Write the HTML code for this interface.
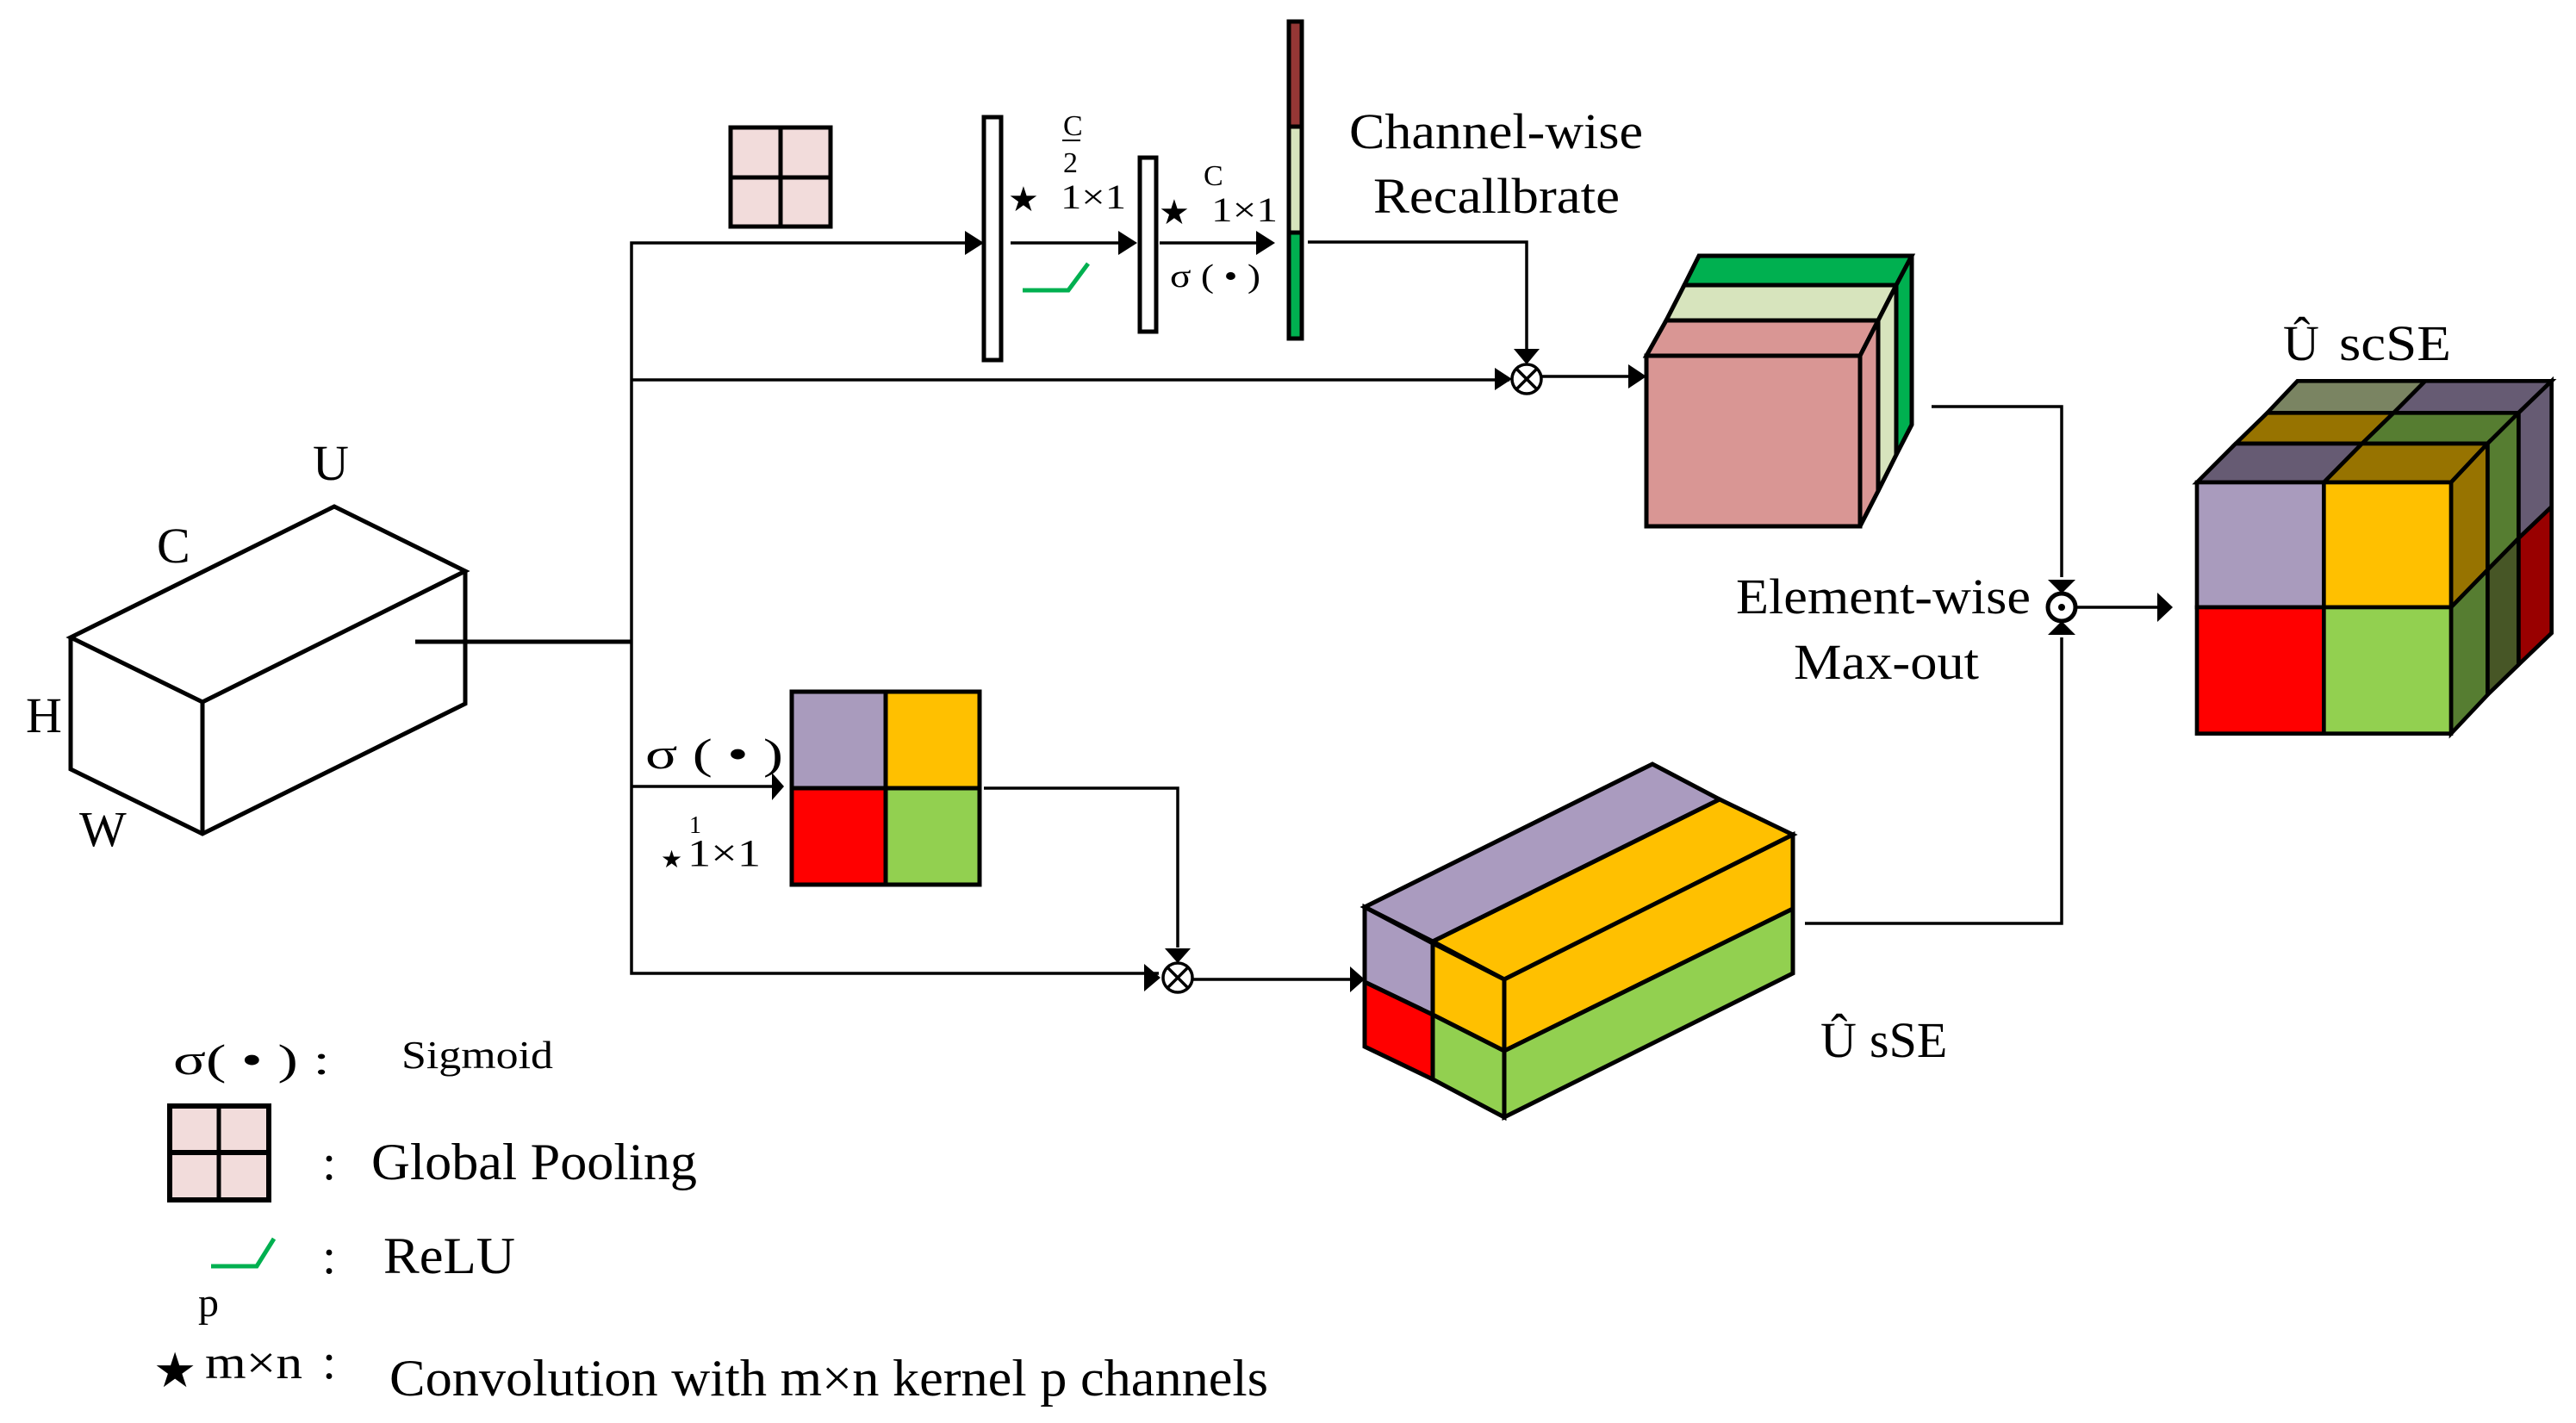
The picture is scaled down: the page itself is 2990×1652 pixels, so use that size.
<!DOCTYPE html>
<html><head><meta charset="utf-8"><style>
html,body{margin:0;padding:0;background:#fff;}
svg{display:block;}
text{font-family:"Liberation Serif","Times New Roman",serif;fill:#000;}
</style></head><body>
<svg width="2990" height="1652" viewBox="0 0 2990 1652" xmlns="http://www.w3.org/2000/svg">
<rect width="2990" height="1652" fill="#fff"/>
<g stroke="#000" stroke-width="3.5" fill="none" stroke-linejoin="miter">
<polygon points="82,740 388,588 540,663 235,815" stroke-width="5"/>
<polyline points="82,740 82,893 235,968 540,817 540,663" stroke-width="5"/>
<line x1="235" y1="815" x2="235" y2="968" stroke-width="5"/>
<line x1="482" y1="745" x2="733" y2="745" stroke-width="5"/>
<polyline points="1126,282 733,282 733,1130 1345,1130"/>
<line x1="733" y1="441" x2="1752" y2="441"/>
<line x1="733" y1="913" x2="905" y2="913"/>
<rect x="848" y="148" width="116" height="115" fill="#f2dcdb" stroke-width="5"/>
<line x1="906" y1="148" x2="906" y2="263" stroke-width="5"/>
<line x1="848" y1="206" x2="964" y2="206" stroke-width="5"/>
<rect x="1142" y="136" width="20" height="282" fill="#fff" stroke-width="5"/>
<line x1="1173" y1="282" x2="1300" y2="282"/>
<rect x="1323" y="183" width="19" height="202" fill="#fff" stroke-width="5"/>
<line x1="1346" y1="282" x2="1460" y2="282"/>
<rect x="1496" y="25" width="15" height="122" fill="#953735" stroke-width="5"/>
<rect x="1496" y="147" width="15" height="123" fill="#d7e4bd" stroke-width="5"/>
<rect x="1496" y="270" width="15" height="123" fill="#00b050" stroke-width="5"/>
<polyline points="1518,281 1772,281 1772,405"/>
<polyline points="1187,337 1240,337 1263,306" stroke="#00b050" stroke-width="5"/>
<circle cx="1772" cy="440" r="17"/>
<line x1="1760" y1="428" x2="1784" y2="452"/><line x1="1784" y1="428" x2="1760" y2="452"/>
<line x1="1789" y1="437" x2="1895" y2="437"/>
<polygon points="1972,297 2219,297 2201,331 1955,331" fill="#00b050" stroke-width="5"/>
<polygon points="1955,331 2201,331 2180,372 1934,372" fill="#d7e4bd" stroke-width="5"/>
<polygon points="1934,372 2180,372 2159,413 1911,413" fill="#d99694" stroke-width="5"/>
<polygon points="2201,331 2219,297 2219,493 2201,528" fill="#00b050" stroke-width="5"/>
<polygon points="2180,372 2201,331 2201,528 2180,570" fill="#d7e4bd" stroke-width="5"/>
<polygon points="2159,413 2180,372 2180,570 2159,611" fill="#d99694" stroke-width="5"/>
<rect x="1911" y="413" width="248" height="198" fill="#d99694" stroke-width="5"/>
<polyline points="2242,472 2393,472 2393,670"/>
<circle cx="2393" cy="705" r="16" stroke-width="5"/>
<circle cx="2393" cy="705" r="4" fill="#000" stroke="none"/>
<line x1="2410" y1="705" x2="2505" y2="705"/>
<polyline points="2095,1072 2393,1072 2393,740"/>
<rect x="919" y="803" width="109" height="112" fill="#a99bbd" stroke-width="5"/>
<rect x="1028" y="803" width="109" height="112" fill="#ffc000" stroke-width="5"/>
<rect x="919" y="915" width="109" height="112" fill="#ff0000" stroke-width="5"/>
<rect x="1028" y="915" width="109" height="112" fill="#92d050" stroke-width="5"/>
<polyline points="1142,915 1367,915 1367,1100"/>
<circle cx="1367" cy="1135" r="17"/>
<line x1="1355" y1="1123" x2="1379" y2="1147"/><line x1="1379" y1="1123" x2="1355" y2="1147"/>
<line x1="1384" y1="1137" x2="1568" y2="1137"/>
<polygon points="1584,1053 1918,887 1996,928 1663,1093" fill="#aa9bbf" stroke-width="5"/>
<polygon points="1663,1093 1996,928 2081,969 1746,1137" fill="#ffc000" stroke-width="5"/>
<polygon points="1584,1053 1663,1095 1663,1178 1584,1140" fill="#aa9bbf" stroke-width="5"/>
<polygon points="1584,1140 1663,1178 1663,1253 1584,1215" fill="#ff0000" stroke-width="5"/>
<polygon points="1663,1095 1746,1137 1746,1220 1663,1178" fill="#ffc000" stroke-width="5"/>
<polygon points="1663,1178 1746,1220 1746,1297 1663,1253" fill="#92d050" stroke-width="5"/>
<polygon points="1746,1137 2081,969 2081,1055 1746,1220" fill="#ffc000" stroke-width="5"/>
<polygon points="1746,1220 2081,1055 2081,1130 1746,1297" fill="#92d050" stroke-width="5"/>
<rect x="197" y="1284" width="115" height="109" fill="#f2dcdb" stroke-width="6"/>
<line x1="254" y1="1284" x2="254" y2="1393" stroke-width="5"/>
<line x1="197" y1="1338" x2="312" y2="1338" stroke-width="6"/>
<polyline points="245,1470 298,1470 318,1438" stroke="#00b050" stroke-width="5"/>
</g>
<g fill="#000">
<polygon points="1120,268 1142,282 1120,296"/>
<polygon points="1298,268 1320,282 1298,296"/>
<polygon points="1458,268 1480,282 1458,296"/>
<polygon points="1757,405 1787,405 1772,423"/>
<polygon points="1735,427 1755,440 1735,453"/>
<polygon points="1890,423 1911,437 1890,451"/>
<polygon points="2377,673 2409,673 2393,689"/>
<polygon points="2377,737 2409,737 2393,721"/>
<polygon points="2504,688 2522,705 2504,722"/>
<polygon points="896,897 910,913 896,929"/>
<polygon points="1352,1101 1382,1101 1367,1118"/>
<polygon points="1328,1119 1347,1135 1328,1151"/>
<polygon points="1567,1122 1584,1137 1567,1152"/>
</g>
<g transform="translate(2480,380) scale(0.33333)" stroke="#000" stroke-width="14" stroke-linejoin="miter">
<polygon points="455,298 895,298 1005,187 560,187" fill="#7a8462"/>
<polygon points="895,298 1330,298 1445,187 1005,187" fill="#665b73"/>
<polygon points="345,405 785,405 895,298 455,298" fill="#977300"/>
<polygon points="785,405 1222,405 1330,298 895,298" fill="#567d31"/>
<polygon points="210,540 652,540 785,405 345,405" fill="#665b73"/>
<polygon points="652,540 1095,540 1222,405 785,405" fill="#977300"/>
<polygon points="1330,298 1445,187 1445,625 1330,735" fill="#665b73"/>
<polygon points="1330,735 1445,625 1445,1065 1330,1175" fill="#990000"/>
<polygon points="1222,405 1330,298 1330,735 1222,845" fill="#567d31"/>
<polygon points="1222,845 1330,735 1330,1175 1222,1280" fill="#475626"/>
<polygon points="1095,540 1222,405 1222,845 1095,975" fill="#977300"/>
<polygon points="1095,975 1222,845 1222,1280 1095,1415" fill="#567d31"/>
<rect x="210" y="540" width="442" height="435" fill="#a99bbd"/>
<rect x="652" y="540" width="443" height="435" fill="#ffc000"/>
<rect x="210" y="975" width="442" height="440" fill="#ff0000"/>
<rect x="652" y="975" width="443" height="440" fill="#92d050"/>
</g>
<text x="363" y="557" font-size="58">U</text>
<text x="182" y="653" font-size="58">C</text>
<text x="30" y="850" font-size="58">H</text>
<text x="92" y="982" font-size="58">W</text>
<text x="1234" y="157" font-size="34">C</text>
<line x1="1233" y1="163" x2="1254" y2="163" stroke="#000" stroke-width="2"/>
<text x="1234" y="200" font-size="34">2</text>
<text x="1170" y="245" font-size="40" font-family="DejaVu Sans">★</text>
<text x="1231" y="242" font-size="40" textLength="76" lengthAdjust="spacingAndGlyphs">1×1</text>
<text x="1345" y="260" font-size="40" font-family="DejaVu Sans">★</text>
<text x="1397" y="215" font-size="34">C</text>
<text x="1406" y="257" font-size="40" textLength="77" lengthAdjust="spacingAndGlyphs">1×1</text>
<text x="1358" y="333" font-size="38" textLength="105" lengthAdjust="spacingAndGlyphs">σ ( • )</text>
<text x="1566" y="172" font-size="58" textLength="341" lengthAdjust="spacingAndGlyphs">Channel-wise</text>
<text x="1594" y="247" font-size="58" textLength="286" lengthAdjust="spacingAndGlyphs">Recallbrate</text>
<text x="2015" y="712" font-size="58" textLength="342" lengthAdjust="spacingAndGlyphs">Element-wise</text>
<text x="2082" y="788" font-size="58" textLength="215" lengthAdjust="spacingAndGlyphs">Max-out</text>
<text x="749" y="892" font-size="50" textLength="160" lengthAdjust="spacingAndGlyphs">σ ( • )</text>
<text x="800" y="967" font-size="28">1</text>
<text x="767" y="1007" font-size="28" font-family="DejaVu Sans">★</text>
<text x="798" y="1005" font-size="44" textLength="85" lengthAdjust="spacingAndGlyphs">1×1</text>
<text x="2113" y="1227" font-size="58">Û</text>
<text x="2170" y="1227" font-size="58">sSE</text>
<text x="2650" y="418" font-size="58">Û</text>
<text x="2715" y="418" font-size="58" textLength="130" lengthAdjust="spacingAndGlyphs">scSE</text>
<text x="201" y="1247" font-size="50" textLength="182" lengthAdjust="spacingAndGlyphs">σ( • ) :</text>
<text x="466" y="1240" font-size="46" textLength="176" lengthAdjust="spacingAndGlyphs">Sigmoid</text>
<text x="374" y="1369" font-size="58">:</text>
<text x="431" y="1369" font-size="60" textLength="378" lengthAdjust="spacingAndGlyphs">Global Pooling</text>
<text x="374" y="1478" font-size="58">:</text>
<text x="445" y="1478" font-size="60" textLength="153" lengthAdjust="spacingAndGlyphs">ReLU</text>
<text x="230" y="1528" font-size="48">p</text>
<text x="178" y="1610" font-size="56" font-family="DejaVu Sans">★</text>
<text x="238" y="1600" font-size="54" textLength="113" lengthAdjust="spacingAndGlyphs">m×n</text>
<text x="374" y="1600" font-size="58">:</text>
<text x="452" y="1620" font-size="60" textLength="1020" lengthAdjust="spacingAndGlyphs">Convolution with m×n kernel p channels</text>
</svg>
</body></html>
